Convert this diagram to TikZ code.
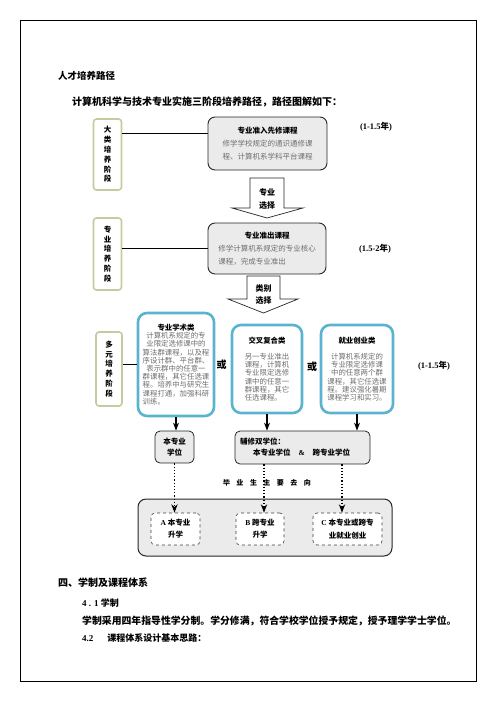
\documentclass[tikz,border=0pt]{standalone}
\usepackage{fontspec}
\setmainfont{Liberation Serif}
\newfontfamily\cjk{Noto Sans CJK SC}
\usetikzlibrary{arrows.meta,positioning}
\definecolor{boxgray}{HTML}{EBEBEB}
\definecolor{textgray}{HTML}{6E6E6E}
\definecolor{stageedge}{HTML}{C3CC9E}
\definecolor{catedge}{HTML}{5AB4CF}

\begin{document}
\begin{tikzpicture}[x=1pt, y=-1pt, >=Stealth, font=\cjk,
  stagebox/.style={draw=stageedge, line width=1.6pt, rounded corners=3pt, fill=white, inner sep=0pt, align=center, font=\cjk\bfseries\fontsize{7.5}{9.8}\selectfont},
  coursebox/.style={draw=black!85, line width=0.9pt, rounded corners=7pt, fill=boxgray, inner sep=0pt, align=center, text=textgray, font=\cjk\fontsize{7.5}{13}\selectfont},
  catbox/.style={draw=catedge, line width=2.6pt, rounded corners=9pt, fill=white, inner sep=0pt, align=center, text=textgray, font=\cjk\fontsize{7.4}{8.2}\selectfont},
  degbox/.style={draw=black!85, line width=0.8pt, rounded corners=5pt, fill=boxgray, inner sep=0pt, font=\cjk\bfseries\fontsize{7.5}{11}\selectfont},
  destbox/.style={draw=black!75, dashed, line width=0.6pt, rounded corners=4pt, fill=white, inner sep=0pt, align=center, font=\cjk\bfseries\fontsize{7.5}{12}\selectfont},
  yearlbl/.style={font=\cjk\bfseries\fontsize{8.5}{10}\selectfont},
  orlbl/.style={font=\cjk\bfseries\fontsize{10}{12}\selectfont},
  bigarrow/.style={draw=black!85, line width=0.7pt, fill=white},
  arrowlbl/.style={align=center, font=\cjk\bfseries\fontsize{8}{12.5}\selectfont},
  link/.style={line width=0.9pt},
  down/.style={->, line width=1.1pt},
  dotarrow/.style={->, line width=1.2pt, dotted},
  heading/.style={anchor=west, inner sep=0pt, font=\cjk\bfseries\fontsize{10}{12}\selectfont},
]
  \useasboundingbox (0,0) rectangle (496,702);
  % page frame
  \draw[line width=0.9pt] (20,20.5) rectangle (476.5,681);

  \node[heading, font=\cjk\bfseries\fontsize{9.5}{12}\selectfont] (title) at (58,76) {人才培养路径};
  \node[heading] (intro) at (72,102) {计算机科学与技术专业实施三阶段培养路径，路径图解如下：};

  % stage 1
  \node[stagebox, minimum width=28pt, minimum height=71pt] (s1) at (107.5,154.5) {大\\类\\培\\养\\阶\\段};
  \node[coursebox, minimum width=119pt, minimum height=53pt] (c1) at (267.5,143.5)
    {\textcolor{black}{\bfseries 专业准入先修课程}\\修学学校规定的通识通修课\\程、计算机系学科平台课程};
  \node[yearlbl] (y1) at (376,127) {{\rmfamily (1-1.5}年{\rmfamily )}};
  \coordinate (j1) at ([yshift=10pt]c1.west);
  \draw[link] (j1 -| s1.east) -- (j1);

  \draw[bigarrow] (250,178) -- (284,178) -- (284,208) -- (303,208) -- (267,218) -- (232,208) -- (250,208) -- cycle;
  \node[arrowlbl] (pick1) at (267,199) {专业\\选择};

  % stage 2
  \node[stagebox, minimum width=28pt, minimum height=72pt] (s2) at (107.5,254) {专\\业\\培\\养\\阶\\段};
  \node[coursebox, minimum width=118pt, minimum height=51pt] (c2) at (267,248.5)
    {\textcolor{black}{\bfseries 专业准出课程}\\修学计算机系规定的专业核心\\\makebox[13em][l]{课程，完成专业准出}};
  \node[yearlbl] (y2) at (375,249) {{\rmfamily (1.5-2}年{\rmfamily )}};
  \draw[link] (s2.east |- c2.west) -- (c2.west);

  \draw[bigarrow] (247,276) -- (280,276) -- (280,299) -- (298,299) -- (263.5,313) -- (228,299) -- (247,299) -- cycle;
  \node[arrowlbl, font=\cjk\bfseries\fontsize{8}{12}\selectfont] (pick2) at (263.5,295) {类别\\选择};

  % stage 3
  \node[stagebox, minimum width=26pt, minimum height=74pt] (s3) at (109,369) {多\\元\\培\\养\\阶\\段};
  \node[catbox, minimum width=76pt, minimum height=103pt] (k1) at (176,364.5)
    {{\color{black}\bfseries 专业学术类}\\计算机系规定的专\\业限定选修课中的\\算法群课程，以及程\\序设计群、平台群、\\表示群中的任意一\\群课程，其它任选课\\程。培养中与研究生\\课程打通，加强科研\\\makebox[9em][l]{训练。}};
  \node[catbox, minimum width=70pt, minimum height=88pt] (k2) at (267,369)
    {{\color{black}\bfseries 交叉复合类}\\[8pt]另一专业准出\\课程，计算机\\专业限定选修\\课中的任意一\\群课程，其它\\\makebox[6em][l]{任选课程。}};
  \node[catbox, minimum width=72pt, minimum height=88pt] (k3) at (357,369)
    {{\color{black}\bfseries 就业创业类}\\[8pt]计算机系规定的\\专业限定选修课\\中的任意两个群\\课程，其它任选课\\程。建议强化暑期\\课程学习和实习。};
  \node[orlbl] (or1) at (221.5,365) {或};
  \node[orlbl] (or2) at (312,367) {或};
  \node[yearlbl] (y3) at (434,366) {{\rmfamily (1-1.5}年{\rmfamily )}};
  \draw[link, line width=1.3pt] (s3.east |- k1.west) -- (k1.west);

  % degrees
  \node[degbox, minimum width=39pt, minimum height=32pt, align=center] (deg1) at (174.5,447) {本专业\\学位};
  \node[degbox, minimum width=135pt, minimum height=33pt, text width=125pt, align=left] (deg2) at (302.5,447.5)
    {辅修双学位：\\\hspace*{13pt}本专业学位\hspace{8pt}{\rmfamily\&}\hspace{8pt}跨专业学位};
  \draw[down] (k1.south) -- (k1.south |- deg1.north);
  \draw[down] (k2.south) -- (k2.south |- deg2.north);
  \draw[down] (k3.south) -- (k3.south |- deg2.north);

  \node[font=\cjk\bfseries\fontsize{7}{9}\selectfont] (grad) at (267,483)
    {毕\hspace{6.5pt}业\hspace{6.5pt}生\hspace{6.5pt}主\hspace{6.5pt}要\hspace{6.5pt}去\hspace{6.5pt}向};

  % destinations
  \node[draw=black!85, line width=1pt, rounded corners=8pt, fill=boxgray, minimum width=254pt, minimum height=57pt, inner sep=0pt] (dest) at (265,527.5) {};
  \node[destbox, minimum width=49pt, minimum height=32pt] (dA) at (175.5,529) {{\rmfamily A} 本专业\\升学};
  \node[destbox, minimum width=48pt, minimum height=32pt] (dB) at (260,529) {{\rmfamily B} 跨专业\\升学};
  \node[destbox, minimum width=69pt, minimum height=32pt, font=\cjk\bfseries\fontsize{7.5}{13}\selectfont] (dC) at (347.5,529) {{\rmfamily C} 本专业或跨专\\业就业创业};
  \coordinate (tB) at ([xshift=4pt]dB.north);
  \coordinate (tC) at ([xshift=-5.5pt]dC.north);
  \draw[dotarrow] (deg1.south) -- (deg1.south |- dA.north);
  \draw[dotarrow] (tB |- deg2.south) -- (tB);
  \draw[dotarrow] (tC |- deg2.south) -- (tC);

  % section text
  \node[heading] (sec) at (58,583) {四、学制及课程体系};
  \node[heading, font=\cjk\bfseries\fontsize{9}{11}\selectfont] (sub1) at (82,603) {{\rmfamily 4 . 1} 学制};
  \node[heading, font=\cjk\bfseries\fontsize{9.85}{11}\selectfont] (rule) at (82,621) {学制采用四年指导性学分制。学分修满，符合学校学位授予规定，授予理学学士学位。};
  \node[heading, font=\cjk\bfseries\fontsize{9}{11}\selectfont] (sub2) at (82,638) {{\rmfamily 4.2}\hspace{14pt}课程体系设计基本思路：};
\end{tikzpicture}
\end{document}
